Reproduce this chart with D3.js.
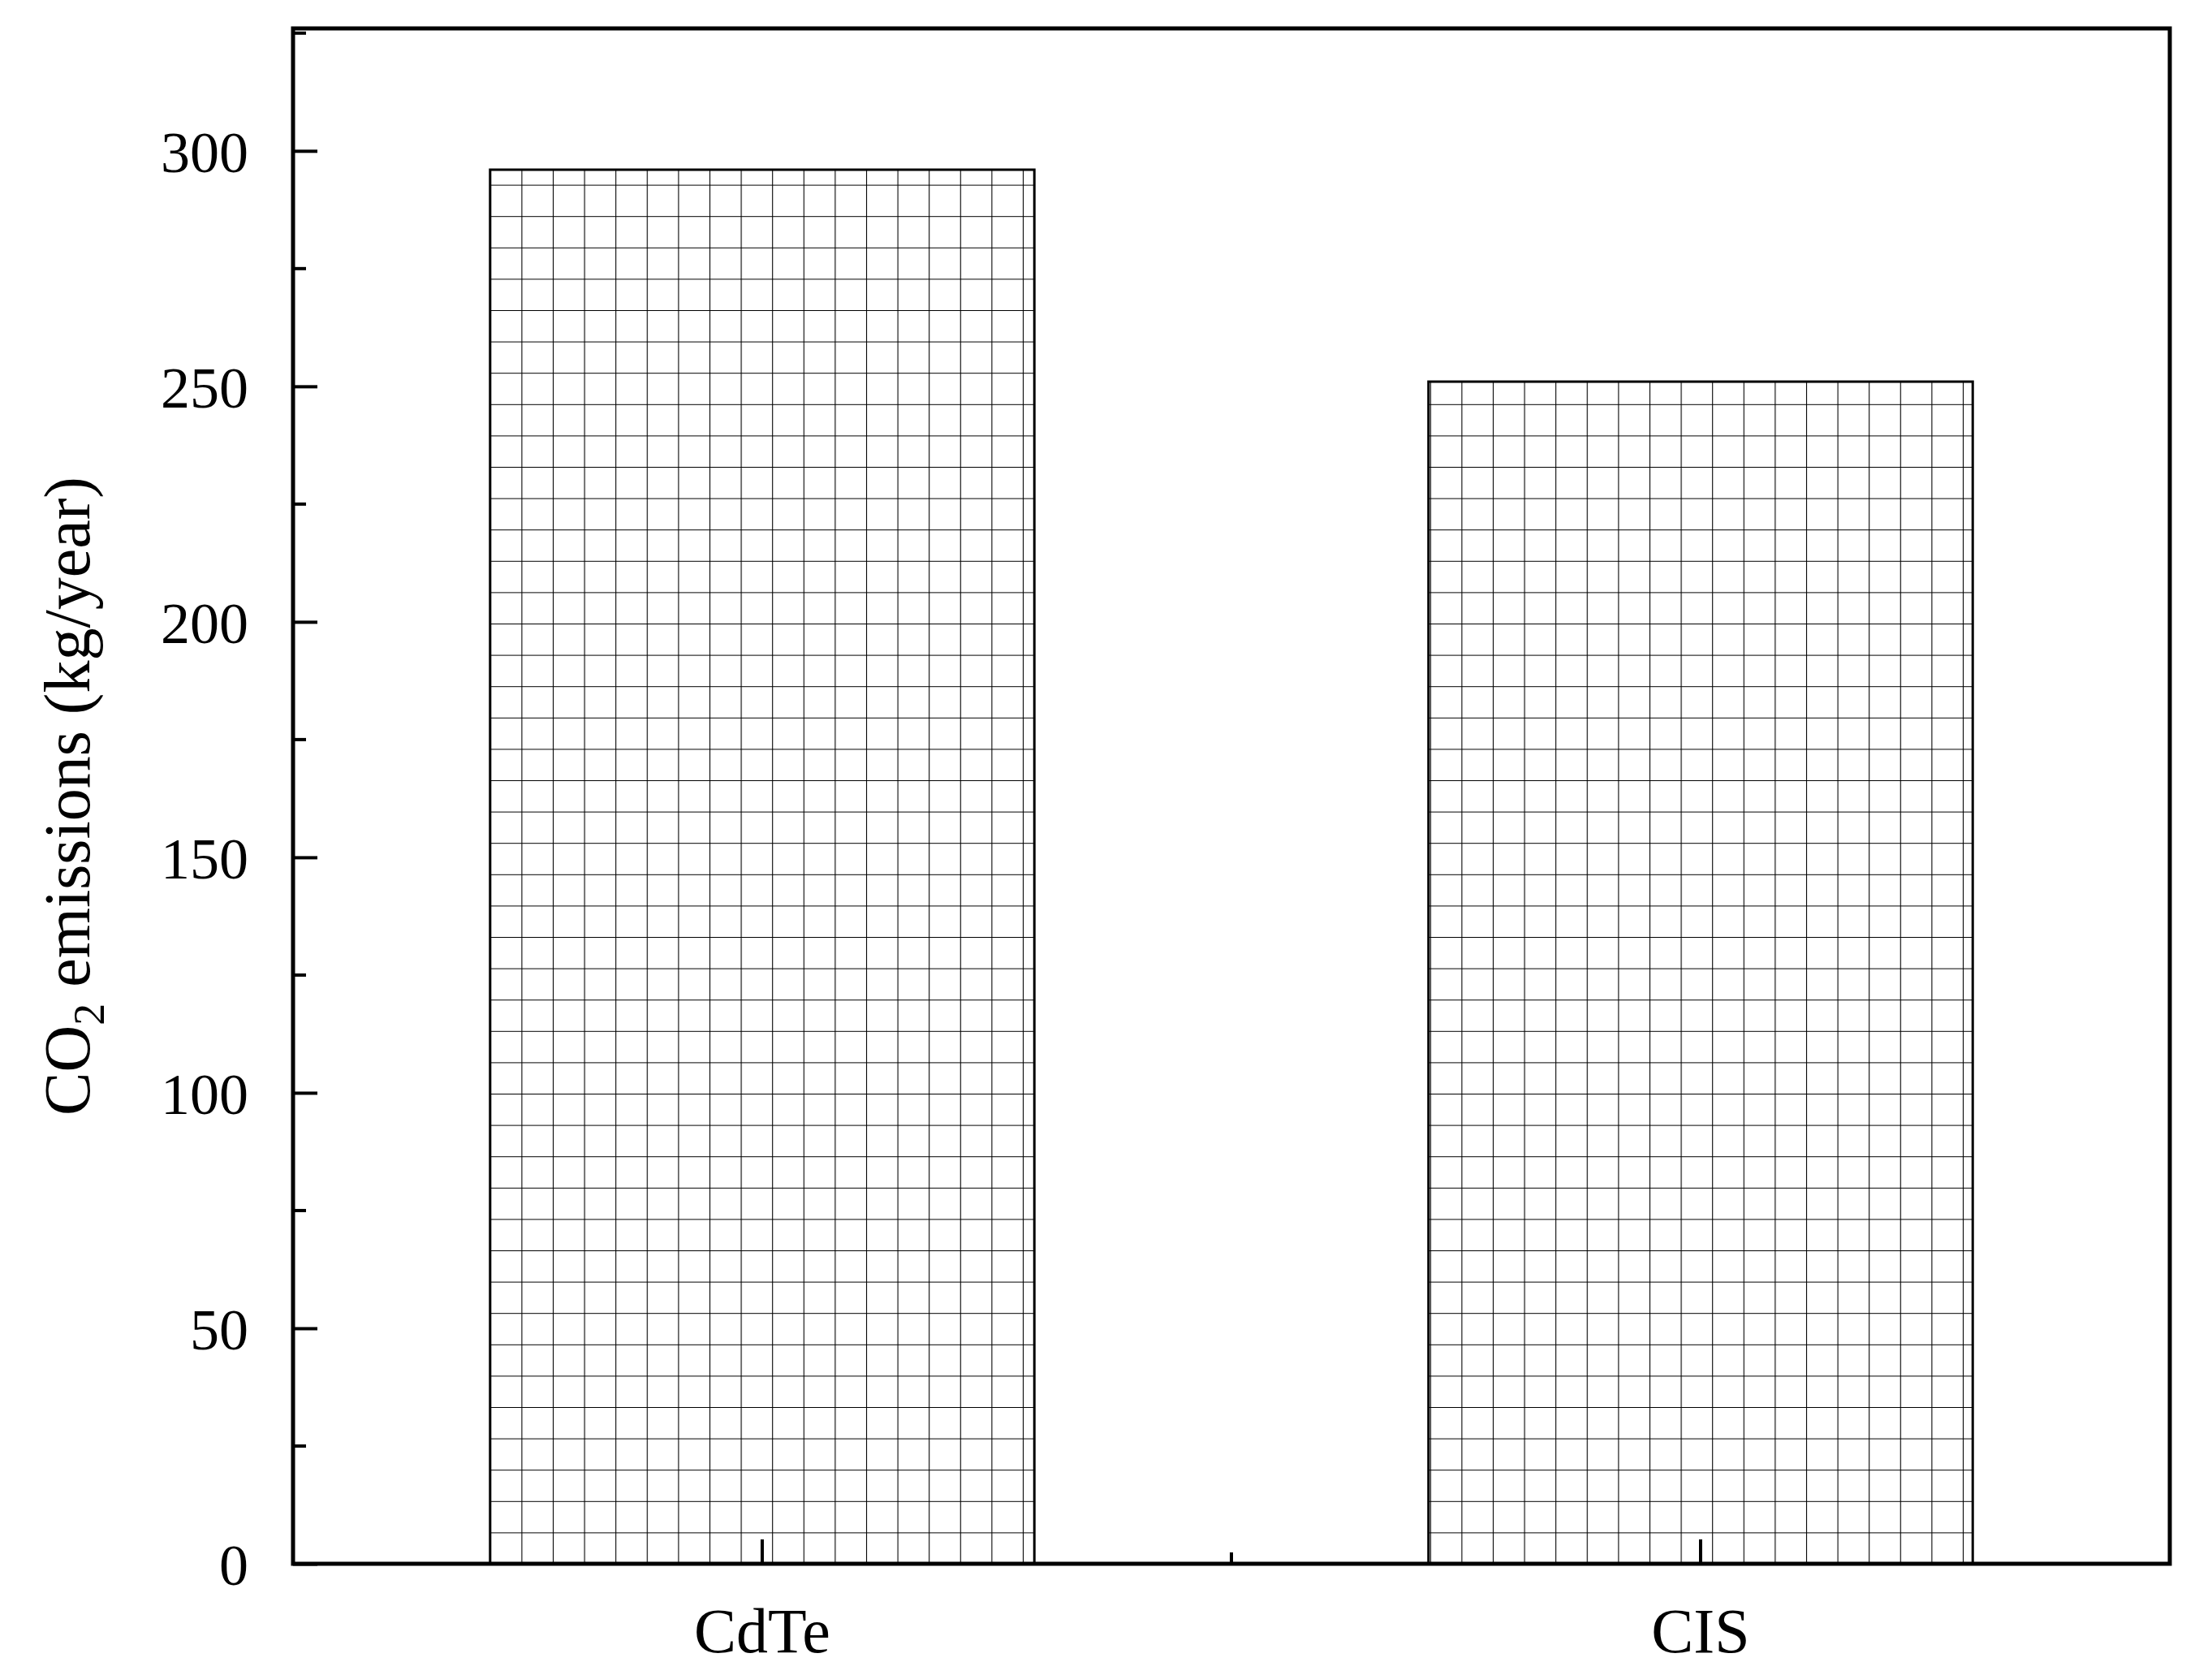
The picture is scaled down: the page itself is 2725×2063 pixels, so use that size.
<!DOCTYPE html>
<html><head><meta charset="utf-8">
<script src="https://cdn.jsdelivr.net/npm/d3@7"></script>
<style>body{margin:0;background:#fff}</style>
</head><body><svg id="c" width="2725" height="2063"></svg>
<script>
var categories = ["CdTe", "CIS"];
var values = [296, 251];
var yTicks = [0, 50, 100, 150, 200, 250, 300];

var svg = d3.select("#c");
var pL = 361, pR = 2673, pT = 35, pB = 1926;
var font = "'Liberation Serif','DejaVu Serif',serif";

var x = d3.scaleBand().domain(categories).range([pL, pR]).paddingInner(0.42).paddingOuter(0.21);
var y = d3.scaleLinear().domain([0, 326]).range([pB, pT]);

// grid hatch pattern
var cell = 38.6;
var pat = svg.append("defs").append("pattern")
  .attr("id", "grid").attr("patternUnits", "userSpaceOnUse")
  .attr("width", cell).attr("height", cell)
  .attr("x", x("CdTe")).attr("y", pB);
pat.append("rect").attr("width", cell).attr("height", cell).attr("fill", "#fff");
pat.append("path").attr("d", "M0,0H" + cell + "M0,0V" + cell)
  .attr("stroke", "#000").attr("stroke-width", 2.2).attr("fill", "none");

svg.selectAll(".bar").data(values).enter().append("rect")
  .attr("class", "bar")
  .attr("x", function(d, i) { return x(categories[i]); })
  .attr("y", function(d) { return y(d); })
  .attr("width", x.bandwidth())
  .attr("height", function(d) { return pB - y(d); })
  .attr("fill", "url(#grid)").attr("stroke", "#000").attr("stroke-width", 3);

// frame
svg.append("rect").attr("x", pL).attr("y", pT).attr("width", pR - pL).attr("height", pB - pT)
  .attr("fill", "none").attr("stroke", "#000").attr("stroke-width", 5);

// y ticks (inward)
var yAxis = d3.axisLeft(y).tickValues(yTicks).tickSizeInner(-30).tickSizeOuter(0).tickPadding(55);
var gy = svg.append("g").attr("transform", "translate(" + pL + ",0)").call(yAxis);
gy.select(".domain").remove();
gy.selectAll("line").attr("stroke-width", 4);
gy.selectAll("text").attr("font-family", font).attr("font-size", 72).attr("fill", "#000").attr("dy", "0.35em");
var minor = d3.range(25, 326, 50);
svg.selectAll(".ym").data(minor).enter().append("line")
  .attr("x1", pL).attr("x2", pL + 16)
  .attr("y1", function(d) { return y(d); }).attr("y2", function(d) { return y(d); })
  .attr("stroke", "#000").attr("stroke-width", 4);

// x ticks
var xAxis = d3.axisBottom(x).tickSizeInner(-30).tickSizeOuter(0).tickPadding(50);
var gx = svg.append("g").attr("transform", "translate(0," + pB + ")").call(xAxis);
gx.select(".domain").remove();
gx.selectAll("line").attr("stroke-width", 4);
gx.selectAll("text").attr("font-family", font).attr("font-size", 78).attr("fill", "#000").attr("dy", "0.75em");
var mid = (x("CdTe") + x.bandwidth() + x("CIS")) / 2;
svg.append("line").attr("x1", mid).attr("x2", mid).attr("y1", pB).attr("y2", pB - 14)
  .attr("stroke", "#000").attr("stroke-width", 4);

// y label
var lab = svg.append("text").attr("transform", "translate(110," + ((pT + pB) / 2) + ") rotate(-90)")
  .attr("text-anchor", "middle").attr("font-family", font).attr("font-size", 80).attr("fill", "#000");
lab.append("tspan").text("CO");
lab.append("tspan").attr("font-size", 54).attr("dy", 18).text("2");
lab.append("tspan").attr("dy", -18).text(" emissions (kg/year)");
</script></body></html>
